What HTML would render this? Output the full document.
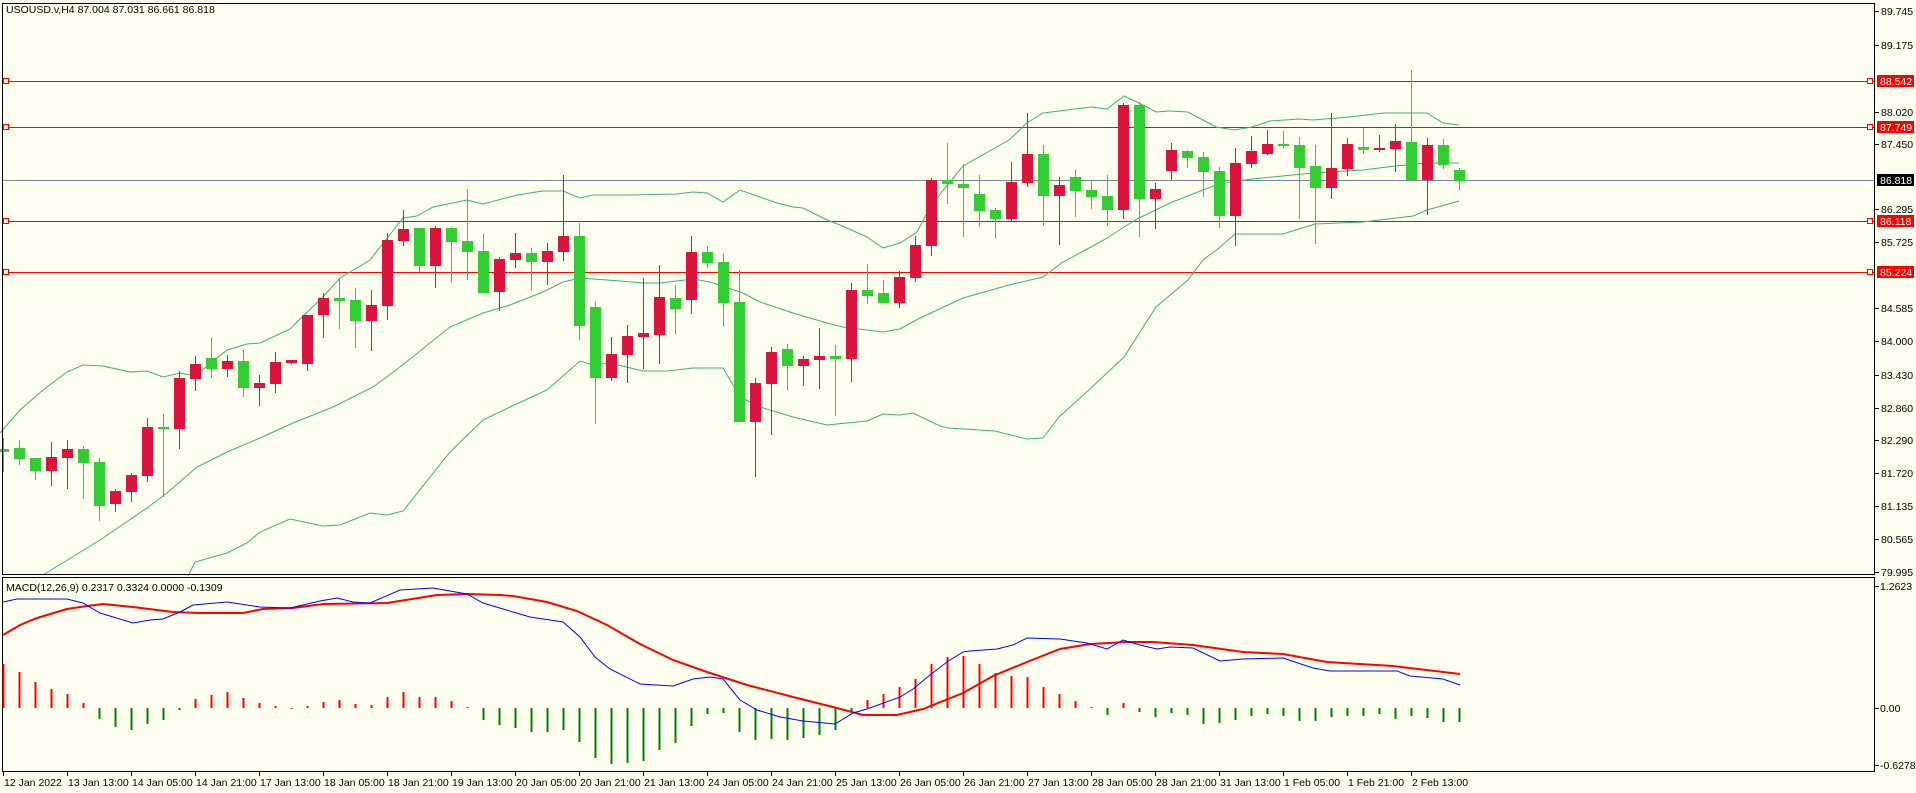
<!DOCTYPE html>
<html><head><meta charset="utf-8">
<style>
html,body{margin:0;padding:0;background:#FFFFF0;}
svg{display:block;font-family:"Liberation Sans",Tahoma,sans-serif;}
</style></head>
<body>
<svg id="c" width="1916" height="793" xmlns="http://www.w3.org/2000/svg">
<rect width="1916" height="793" fill="#FFFFF0"/>
</svg>
<script>
const S=document.getElementById('c');const NS='http://www.w3.org/2000/svg';
function el(t,a,txt){const e=document.createElementNS(NS,t);for(const k in a)e.setAttribute(k,a[k]);if(txt!==undefined)e.textContent=txt;S.appendChild(e);return e;}
// candles: [bodyTop, bodyBot, high, low, color g/r]
const C=[
[449,452,438,472,'g'],[448,459,440,465,'g'],[458,471,458,480,'g'],[457,471,442,486,'r'],[449,458,440,489,'r'],
[449,463,446,499,'g'],[462,506,458,521,'g'],[491,504,489,512,'r'],[475,492,473,502,'r'],[427,476,418,482,'r'],
[427,429,414,497,'g'],[378,429,371,449,'r'],[364,379,356,391,'r'],[358,369,338,378,'g'],[361,369,355,377,'r'],
[361,388,350,397,'g'],[383,388,375,406,'r'],[362,384,352,393,'r'],[360,363,360,364,'r'],[315,364,315,371,'r'],
[298,315,293,338,'r'],[298,301,278,329,'g'],[300,321,288,348,'g'],[305,321,290,351,'r'],[240,306,233,320,'r'],
[229,241,210,246,'r'],[228,266,228,272,'g'],[228,266,226,288,'r'],[228,242,227,283,'g'],[241,252,189,280,'g'],
[251,293,234,293,'g'],[259,292,257,311,'r'],[253,260,233,268,'r'],[253,262,248,291,'g'],[251,262,243,285,'r'],
[236,252,175,261,'r'],[236,326,223,340,'g'],[307,378,301,424,'g'],[354,378,337,381,'r'],[336,355,325,383,'r'],
[333,337,278,369,'r'],[297,335,265,364,'r'],[298,309,285,334,'g'],[252,300,236,314,'r'],[252,263,246,268,'g'],
[262,303,253,326,'g'],[302,422,270,422,'g'],[383,422,378,477,'r'],[352,384,347,435,'r'],[349,366,344,390,'g'],
[359,366,356,386,'r'],[356,360,328,389,'r'],[356,359,345,416,'g'],[290,359,283,382,'r'],[290,296,264,304,'g'],
[293,303,280,303,'g'],[277,303,271,308,'r'],[245,278,236,282,'r'],[180,246,178,256,'r'],[180,184,143,204,'g'],
[184,188,164,237,'g'],[194,211,175,227,'g'],[210,219,208,238,'g'],[182,219,162,221,'r'],[154,183,113,187,'r'],
[154,196,145,226,'g'],[185,196,177,245,'r'],[177,191,170,217,'g'],[190,197,180,209,'g'],[196,210,175,226,'g'],
[105,210,103,219,'r'],[105,199,102,237,'g'],[189,199,183,229,'r'],[150,171,143,180,'r'],[151,158,150,168,'g'],
[157,172,152,197,'g'],[171,216,167,228,'g'],[163,216,148,246,'r'],[151,164,136,168,'r'],[144,154,130,155,'r'],
[144,146,131,148,'g'],[145,168,137,219,'g'],[166,188,145,244,'g'],[168,188,113,199,'r'],[144,169,138,176,'r'],
[147,150,128,154,'g'],[148,150,135,152,'r'],[141,149,124,172,'r'],[142,180,70,180,'g'],[145,180,138,215,'r'],
[145,165,139,169,'g'],[170,181,168,190,'g']];
const cx=i=>3+16*i;
// horizontal lines
[81,127,221,272].forEach(y=>{el('line',{x1:2,x2:1875,y1:y+.5,y2:y+.5,stroke:'#FF0000','stroke-width':1});
 el('rect',{x:3.5,y:y-2.5,width:5,height:5,fill:'#FFFFF0',stroke:'#FF0000'});
 el('rect',{x:1867.5,y:y-2.5,width:5,height:5,fill:'#FFFFF0',stroke:'#FF0000'});});
el('line',{x1:2,x2:1875,y1:180.5,y2:180.5,stroke:'#778899','stroke-width':1});
// bands
const up=[[0,433],[20,410],[43,390],[67,372],[83,365],[103,366],[130,372],[147,371],[163,377],[180,373],[195,376],[227,350],[247,344],[260,343],[290,329],[303,316],[320,300],[340,278],[370,260],[403,218],[417,216],[433,207],[467,200],[483,204],[517,195],[543,191],[563,191],[580,198],[593,195],[627,195],[677,194],[693,192],[707,193],[723,202],[740,190],[757,196],[777,203],[793,207],[803,208],[827,220],[840,225],[867,237],[883,248],[900,243],[917,232],[927,213],[941,193],[963,166],[1009,140],[1027,123],[1043,113],[1091,107],[1107,109],[1124,96],[1139,103],[1156,112],[1170,111],[1188,112],[1216,127],[1234,130],[1252,127],[1270,121],[1299,119],[1313,120],[1349,117],[1384,113],[1427,113],[1443,123],[1459,125]];
const mid=[[43,575],[100,540],[147,508],[167,493],[197,467],[227,452],[260,438],[293,423],[333,407],[373,387],[400,367],[450,327],[483,313],[510,305],[543,292],[563,282],[580,278],[620,281],[643,283],[660,283],[693,279],[710,282],[743,293],[760,302],[793,313],[827,323],[843,327],[883,332],[900,329],[920,318],[963,298],[1009,285],[1043,277],[1063,262],[1091,247],[1109,237],[1124,227],[1139,218],[1170,203],[1203,190],[1219,184],[1252,179],[1313,173],[1363,170],[1395,166],[1427,163],[1459,163]];
const lo=[[188,576],[195,562],[227,553],[247,543],[260,532],[290,519],[323,526],[340,525],[370,513],[387,515],[403,511],[450,452],[483,420],[510,407],[547,390],[580,361],[593,365],[610,363],[643,371],[667,371],[693,368],[723,368],[740,397],[760,407],[793,417],[827,425],[867,421],[883,414],[900,415],[913,413],[940,426],[949,428],[995,431],[1027,439],[1043,438],[1059,417],[1091,388],[1124,357],[1156,307],[1188,280],[1203,260],[1219,248],[1235,234],[1283,234],[1315,224],[1363,222],[1413,216],[1427,210],[1459,201]];
[up,mid,lo].forEach(p=>el('polyline',{points:p.map(q=>q.join(',')).join(' '),fill:'none',stroke:'#3CB371','stroke-width':1}));
// candles
C.forEach((c,i)=>{const x=cx(i);const g=c[4]=='g';
 el('rect',{x:x,y:c[2],width:1,height:Math.max(1,c[3]-c[2]),fill:g?'#00EE00':'#DC143C'});
 el('rect',{x:x-5,y:c[0],width:11,height:Math.max(2,c[1]-c[0]),fill:g?'#32CD32':'#DC143C'});});
// borders
el('rect',{x:2.5,y:3.5,width:1872,height:571,fill:'none',stroke:'#000'});
el('rect',{x:2.5,y:577.5,width:1872,height:194,fill:'none',stroke:'#000'});
el('text',{x:6,y:13,'font-size':10.5,fill:'#000'},'USOUSD.v,H4  87.004 87.031 86.661 86.818');
el('text',{x:6,y:591,'font-size':10.5,fill:'#000'},'MACD(12,26,9) 0.2317 0.3324 0.0000 -0.1309');
// price axis
const pl=[['89.745',11],['89.175',45],['88.020',112],['87.450',144],['86.295',209],['85.725',242],['84.585',308],['84.000',341],['83.430',375],['82.860',408],['82.290',440],['81.720',473],['81.135',506],['80.565',539],['79.995',572]];
pl.forEach(p=>{el('line',{x1:1875,x2:1879,y1:p[1]+.5,y2:p[1]+.5,stroke:'#000'});el('text',{x:1881,y:p[1]+4,'font-size':10.5,fill:'#000'},p[0]);});
[['88.542',81,'#FF0000'],['87.749',127,'#FF0000'],['86.818',180,'#000'],['86.118',221,'#FF0000'],['85.224',272,'#FF0000']].forEach(p=>{
 el('rect',{x:1877,y:p[1]-6,width:37,height:12,fill:p[2]});el('text',{x:1880,y:p[1]+4,'font-size':10.5,fill:'#fff'},p[0]);});
// macd axis
[['1.2623',586],['0.00',708],['-0.6278',765]].forEach(p=>{el('line',{x1:1875,x2:1879,y1:p[1]+.5,y2:p[1]+.5,stroke:'#000'});el('text',{x:1880,y:p[1]+4,'font-size':10.5,fill:'#000'},p[0]);});
// histogram (end y, zero at 708)
const H=[664,672,682,689,694,703,719,727,730,724,720,710,699,695,692,698,703,706,709,706,702,700,704,705,697,692,697,697,701,707,720,725,728,732,732,730,742,758,764,763,761,750,743,726,714,713,732,740,739,740,738,735,730,712,700,694,687,679,664,657,656,664,673,676,677,687,694,701,707,715,703,712,717,713,715,724,723,720,716,714,716,721,721,717,716,716,714,719,716,718,722,722];
const gr=new Set([6,7,8,9,10,11,18,30,31,32,33,34,35,36,37,38,39,40,41,42,43,44,45,46,47,48,49,50,51,52,53,69,71,72,73,74,75,76,77,78,79,80,81,82,83,84,85,86,87,88,89,90,91]);
H.forEach((y,i)=>{const x=cx(i);const g=gr.has(i);const y0=708;const t=Math.min(y,y0),h=Math.max(1,Math.abs(y-y0));
 el('rect',{x:x-.5,y:t,width:2,height:h,fill:g?'#008000':'#FF0000'});});
const blue=[[3,602],[17,599],[67,599],[83,603],[100,613],[133,623],[150,620],[163,619],[180,612],[193,605],[227,602],[260,607],[290,608],[320,601],[337,598],[353,602],[370,603],[400,590],[433,588],[467,594],[483,603],[503,609],[530,617],[563,622],[580,637],[595,657],[610,669],[640,684],[673,686],[693,679],[710,677],[723,679],[740,700],[757,710],[780,717],[803,721],[835,724],[853,713],[867,709],[900,697],[913,689],[930,675],[947,662],[963,652],[970,651],[997,649],[1013,645],[1027,638],[1060,639],[1087,643],[1107,649],[1123,640],[1140,645],[1157,649],[1170,647],[1193,648],[1220,661],[1243,659],[1283,658],[1313,668],[1330,671],[1397,671],[1410,676],[1443,679],[1460,685]];
const red=[[3,635],[20,625],[37,618],[67,609],[87,606],[103,604],[133,607],[173,612],[200,613],[243,613],[263,609],[293,608],[323,604],[387,603],[437,595],[467,594],[500,595],[513,596],[547,602],[577,611],[607,625],[640,644],[673,660],[707,672],[747,685],[797,698],[833,707],[863,715],[897,715],[923,709],[963,693],[993,676],[1027,662],[1060,649],[1090,644],[1127,642],[1153,642],[1193,645],[1243,652],[1283,654],[1327,662],[1393,666],[1460,674]];
el('polyline',{points:red.map(q=>q.join(',')).join(' '),fill:'none',stroke:'#FF0000','stroke-width':2});
el('polyline',{points:blue.map(q=>q.join(',')).join(' '),fill:'none',stroke:'#0000FF','stroke-width':1});
// time axis
const tl=['12 Jan 2022','13 Jan 13:00','14 Jan 05:00','14 Jan 21:00','17 Jan 13:00','18 Jan 05:00','18 Jan 21:00','19 Jan 13:00','20 Jan 05:00','20 Jan 21:00','21 Jan 13:00','24 Jan 05:00','24 Jan 21:00','25 Jan 13:00','26 Jan 05:00','26 Jan 21:00','27 Jan 13:00','28 Jan 05:00','28 Jan 21:00','31 Jan 13:00','1 Feb 05:00','1 Feb 21:00','2 Feb 13:00'];
tl.forEach((t,k)=>{const x=3+64*k;el('line',{x1:x+.5,x2:x+.5,y1:772,y2:776,stroke:'#000'});el('text',{x:x+1,y:786,'font-size':10.5,fill:'#000'},t);});
</script>
</body></html>
